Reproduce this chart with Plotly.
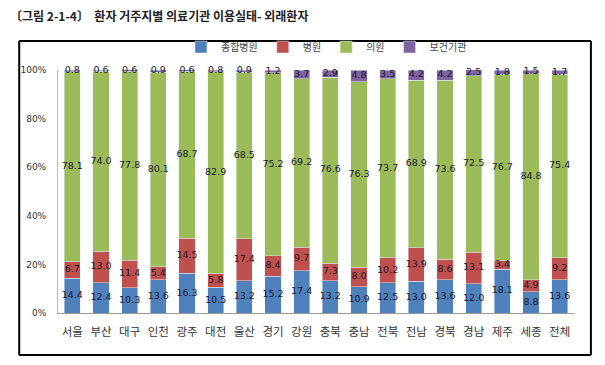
import plotly.graph_objects as go

categories = ["서울", "부산", "대구", "인천", "광주", "대전", "울산", "경기", "강원",
              "충북", "충남", "전북", "전남", "경북", "경남", "제주", "세종", "전체"]
general_hosp = [14.4, 12.4, 10.3, 13.6, 16.3, 10.5, 13.2, 15.2, 17.4,
                13.2, 10.9, 12.5, 13.0, 13.6, 12.0, 18.1, 8.8, 13.6]
hospital = [6.7, 13.0, 11.4, 5.4, 14.5, 5.8, 17.4, 8.4, 9.7,
            7.3, 8.0, 10.2, 13.9, 8.6, 13.1, 3.4, 4.9, 9.2]
clinic = [78.1, 74.0, 77.8, 80.1, 68.7, 82.9, 68.5, 75.2, 69.2,
          76.6, 76.3, 73.7, 68.9, 73.6, 72.5, 76.7, 84.8, 75.4]
health_center = [0.8, 0.6, 0.6, 0.9, 0.6, 0.8, 0.9, 1.2, 3.7,
                 2.9, 4.8, 3.5, 4.2, 4.2, 2.5, 1.8, 1.5, 1.7]
series_names = ["종합병원", "병원", "의원", "보건기관"]
colors = ["#4F81BD", "#C0504D", "#9BBB59", "#8064A2"]
y_ticks = [0, 20, 40, 60, 80, 100]
y_tick_labels = ["0%", "20%", "40%", "60%", "80%", "100%"]

KFONT = "Noto Sans CJK KR, Noto Sans, sans-serif"

fig = go.Figure()
series = [general_hosp, hospital, clinic, health_center]
base = [0.0] * len(categories)
for name, vals, col in zip(series_names, series, colors):
    fig.add_trace(go.Bar(
        x=categories, y=vals, name=name, marker_color=col,
        hoverinfo="skip",
    ))
    mids = [b + v / 2 for b, v in zip(base, vals)]
    fig.add_trace(go.Scatter(
        x=categories, y=mids, mode="text",
        text=[f"{v:.1f}" for v in vals], textposition="middle center",
        textfont=dict(size=9.5, color="#1a1a2e", family="DejaVu Sans"),
        showlegend=False, hoverinfo="skip", cliponaxis=False,
    ))
    base = [b + v for b, v in zip(base, vals)]

# page has an 8px body margin; figure coords = page coords - 8.
OFF = 8
W, H = 605 - 2 * OFF, 365 - 2 * OFF
L, R, T, B = 55 - OFF, W - (574 - OFF), 70 - OFF, H - (313 - OFF)
pw, ph = W - L - R, H - T - B

def px(x):
    return (x - OFF - L) / pw

def py(y):
    return (H - B - (y - OFF)) / ph

fx0, fx1, fy0, fy1 = px(16), px(591), py(355), py(41)
frame_line = dict(color="#000000", width=2)
for (a, b, c, d) in [(fx0, fy0, fx1, fy0), (fx0, fy1, fx1, fy1),
                     (fx0, fy0, fx0, fy1), (fx1, fy0, fx1, fy1)]:
    fig.add_shape(type="line", xref="paper", yref="paper",
                  x0=a, y0=b, x1=c, y1=d, line=frame_line, layer="above")

fig.update_layout(
    width=W, height=H,
    margin=dict(l=L, r=R, t=T, b=B),
    barmode="stack", bargap=0.44,
    plot_bgcolor="white", paper_bgcolor="white",
    title=dict(text="〔그림 2-1-4〕  환자 거주지별 의료기관 이용실태- 외래환자",
               x=2 / W, xanchor="left", y=1 - 9 / H, yanchor="middle",
               font=dict(family=KFONT, size=12, color="#222222", weight="bold")),
    legend=dict(orientation="h", x=px(325), xanchor="center", y=py(47), yanchor="middle",
                font=dict(family=KFONT, size=10, color="#444444"),
                itemwidth=30, traceorder="normal", bgcolor="rgba(0,0,0,0)"),
    xaxis=dict(range=[-0.5, len(categories) - 0.5], autorange=False,
               showgrid=False, showline=True, linecolor="#999999", linewidth=1,
               tickfont=dict(family=KFONT, size=11.5, color="#333333"),
               ticks="outside", ticklen=8, tickcolor="rgba(0,0,0,0)"),
    yaxis=dict(range=[0, 100], tickvals=y_ticks, ticktext=y_tick_labels,
               showgrid=False, showline=True, linecolor="#BBBBBB", linewidth=1,
               zeroline=False,
               ticks="outside", ticklen=9, tickcolor="rgba(0,0,0,0)",
               tickfont=dict(family="DejaVu Sans", size=9, color="#333333")),
)

fig.write_html("out.html")
